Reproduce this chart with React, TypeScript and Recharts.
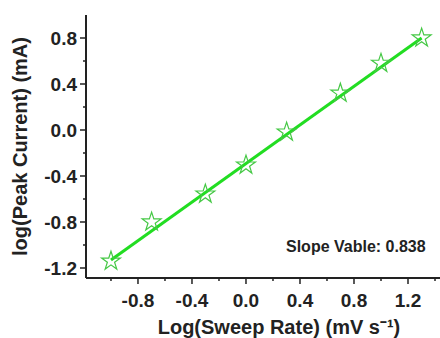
import { ComposedChart, Scatter, XAxis, YAxis, Symbols } from 'recharts';

const logRate = [-1.0, -0.699, -0.301, 0.0, 0.301, 0.699, 1.0, 1.301];
const logPeak = [-1.14, -0.8, -0.557, -0.305, -0.018, 0.32, 0.58, 0.8];

const fitX = [-1.0, 1.301];
const fitY = [-1.13, 0.8];

const xTicks = [-1.0, -0.8, -0.6, -0.4, -0.2, 0.0, 0.2, 0.4, 0.6, 0.8, 1.0, 1.2, 1.4];
const yTicks = [-1.2, -1.0, -0.8, -0.6, -0.4, -0.2, 0.0, 0.2, 0.4, 0.6, 0.8];

const points = logRate.map((x, i) => ({ x, y: logPeak[i] }));
const fit = fitX.map((x, i) => ({ x, y: fitY[i] }));

const FONT = '"Liberation Sans", Arial, sans-serif';
const isMajor = (v: number) => Math.abs(v / 0.4 - Math.round(v / 0.4)) < 1e-6;

function XTick({ x, y, payload }: any) {
  const v = payload.value;
  const major = isMajor(v);
  return (
    <g>
      <line x1={x} x2={x} y1={y} y2={y + (major ? 6 : 3)} stroke="#222" strokeWidth={1.5} />
      {major && (
        <text x={x} y={y + 29} textAnchor="middle" fontSize={19} fontWeight="bold" fill="#222" fontFamily={FONT}>
          {v.toFixed(1)}
        </text>
      )}
    </g>
  );
}

function YTick({ x, y, payload }: any) {
  const v = payload.value;
  const major = isMajor(v);
  return (
    <g>
      <line x1={x} x2={x - (major ? 6 : 3)} y1={y} y2={y} stroke="#222" strokeWidth={1.5} />
      {major && (
        <text x={x - 9} y={y + 7} textAnchor="end" fontSize={19} fontWeight="bold" fill="#222" fontFamily={FONT}>
          {v.toFixed(1)}
        </text>
      )}
    </g>
  );
}

const Star = (props: any) => (
  <Symbols cx={props.cx} cy={props.cy} type="star" size={110} fill="none" stroke="#45c845" strokeWidth={1.2} />
);

export default function App() {
  return (
    <div style={{ position: 'absolute', left: 0, top: 0, width: 440, height: 338, background: '#fff' }}>
      <ComposedChart width={440} height={338} margin={{ top: 15, right: 0, left: 0, bottom: 0 }}>
        <XAxis
          xAxisId="top"
          orientation="top"
          type="number"
          dataKey="x"
          domain={[-1.185, 1.437]}
          height={0}
          tick={false}
          tickLine={false}
          axisLine={{ stroke: '#222', strokeWidth: 2 }}
          allowDataOverflow
        />
        <XAxis
          type="number"
          dataKey="x"
          domain={[-1.185, 1.437]}
          ticks={xTicks}
          tick={<XTick />}
          tickLine={false}
          tickSize={0}
          tickMargin={0}
          height={60}
          interval={0}
          axisLine={{ stroke: '#222', strokeWidth: 2 }}
          allowDataOverflow
          label={{
            value: 'Log(Sweep Rate) (mV s\u207B\u00B9)',
            position: 'insideBottom',
            offset: 4,
            dx: 16,
            fontSize: 20,
            fontWeight: 'bold',
            fill: '#222',
            fontFamily: FONT,
          }}
        />
        <YAxis
          type="number"
          dataKey="y"
          domain={[-1.287, 1.0]}
          ticks={yTicks}
          tick={<YTick />}
          tickLine={false}
          tickSize={0}
          tickMargin={0}
          width={86}
          interval={0}
          axisLine={{ stroke: '#222', strokeWidth: 2 }}
          allowDataOverflow
          label={{
            value: 'log(Peak Current) (mA)',
            angle: -90,
            position: 'insideLeft',
            offset: 20,
            textAnchor: 'middle',
            fontSize: 20,
            fontWeight: 'bold',
            fill: '#222',
            fontFamily: FONT,
          }}
        />
        <Scatter
          data={fit}
          line={{ stroke: '#22dd22', strokeWidth: 3 }}
          shape={() => <g />}
          isAnimationActive={false}
        />
        <Scatter data={points} shape={<Star />} isAnimationActive={false} />
      </ComposedChart>
      <div
        style={{
          position: 'absolute',
          left: 286,
          top: 238,
          fontFamily: FONT,
          fontWeight: 'bold',
          fontSize: 16,
          color: '#222',
          whiteSpace: 'nowrap',
        }}
      >
        Slope Vable: 0.838
      </div>
    </div>
  );
}
